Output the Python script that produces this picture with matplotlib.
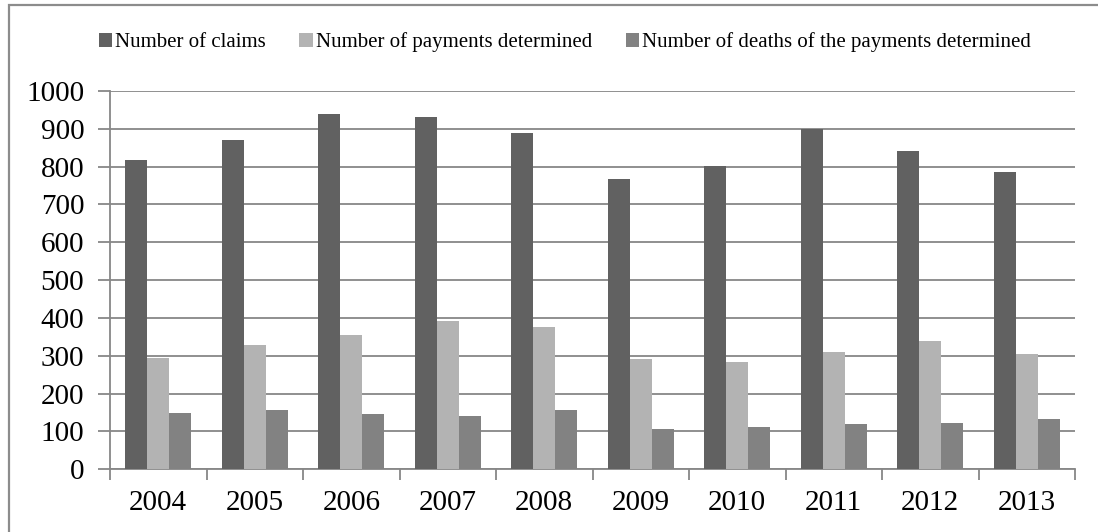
import numpy as np
import matplotlib
matplotlib.use("Agg")
import matplotlib.pyplot as plt
from matplotlib.patches import Rectangle, Patch
from matplotlib.ticker import MultipleLocator, FixedLocator

years = ["2004", "2005", "2006", "2007", "2008", "2009", "2010", "2011", "2012", "2013"]
claims = [818, 870, 939, 931, 889, 767, 801, 900, 841, 786]
payments = [294, 328, 354, 391, 376, 291, 283, 310, 339, 304]
deaths = [149, 157, 146, 141, 157, 106, 112, 120, 122, 133]
series_names = ["Number of claims", "Number of payments determined",
                "Number of deaths of the payments determined"]
series_colors = ["#616161", "#b3b3b3", "#828282"]

plt.rcParams["font.family"] = ["Liberation Serif", "DejaVu Serif"]

fig = plt.figure(figsize=(10.98, 5.32), dpi=100)
ax = fig.add_axes([110 / 1098, 1 - 469.3 / 532, (1075 - 110) / 1098, (469.3 - 91) / 532])

x = np.arange(len(years))
w = 0.228
for i, (vals, col) in enumerate(zip([claims, payments, deaths], series_colors)):
    ax.bar(x + (i - 1) * w, vals, width=w, color=col, zorder=3, linewidth=0)

grid_col = "#878787"
ax.set_ylim(0, 1000)
ax.set_xlim(-0.5, len(years) - 0.5)
ax.yaxis.set_major_locator(MultipleLocator(100))
ax.yaxis.grid(True, color=grid_col, linewidth=1.3, zorder=0)
ax.set_axisbelow(True)

ax.set_xticks(x)
ax.set_xticklabels(years)
ax.xaxis.set_minor_locator(FixedLocator(np.arange(-0.5, len(years), 1.0)))
ax.tick_params(axis="x", which="major", length=0, pad=15, labelsize=21)
ax.tick_params(axis="x", which="minor", length=8, width=1.3, color=grid_col, direction="out")
ax.tick_params(axis="y", which="major", length=9, width=1.3, color=grid_col,
               direction="out", pad=9.5, labelsize=21)

for s in ["top", "right"]:
    ax.spines[s].set_visible(False)
for s in ["left", "bottom"]:
    ax.spines[s].set_color(grid_col)
    ax.spines[s].set_linewidth(1.3)

handles = [Patch(facecolor=c, edgecolor="none") for c in series_colors]
fig.legend(handles, series_names, loc="center", bbox_to_anchor=(565 / 1098, 1 - 42 / 532),
           ncol=3, frameon=False, fontsize=15, handlelength=0.65, handleheight=0.65,
           handletextpad=0.15, columnspacing=1.6)

# outer chart frame
fig.patches.append(Rectangle((9 / 1098, -0.5), 2.0, 1.5 - 5 / 532, transform=fig.transFigure,
                             fill=False, edgecolor="#8c8c8c", linewidth=1.6))

fig.savefig("out.png", dpi=100)
